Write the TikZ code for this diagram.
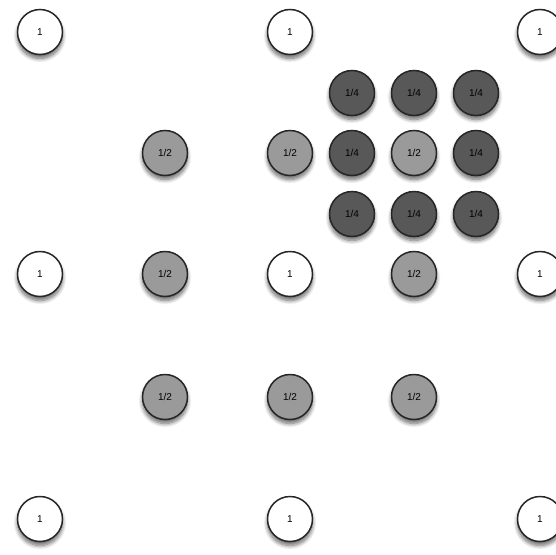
\documentclass[tikz,border=0pt]{standalone}
\usepackage{fontspec}
\setsansfont{Liberation Sans}
\usetikzlibrary{shadows.blur}
\definecolor{halfgray}{HTML}{9A9A9A}
\definecolor{quartergray}{HTML}{585858}
\tikzset{
  coin/.style={circle, draw=black!85, line width=1.5pt, minimum size=45pt,
    inner sep=0pt, font=\sffamily\fontsize{10}{11}\selectfont,
    blur shadow={shadow xshift=0pt, shadow yshift=-4pt, shadow blur radius=4pt,
      shadow blur steps=8, shadow opacity=60}},
  onecoin/.style={coin, fill=white},
  halfcoin/.style={coin, fill=halfgray},
  quartercoin/.style={coin, fill=quartergray, text=black}
}
\begin{document}
\begin{tikzpicture}[x=1pt, y=-1pt]
    \useasboundingbox (0,0) rectangle (556,554);

    % 1. Cac diem trong so 1 (goc luoi thua)
    \node[onecoin] (w11) at (40,32) {1};
    \node[onecoin] (w12) at (290,32) {1};
    \node[onecoin] (w13) at (540,32) {1};
    \node[onecoin] (w21) at (40,274) {1};
    \node[onecoin] (w22) at (290,274) {1};
    \node[onecoin] (w23) at (540,274) {1};
    \node[onecoin] (w31) at (40,519) {1};
    \node[onecoin] (w32) at (290,519) {1};
    \node[onecoin] (w33) at (540,519) {1};

    % 2. Cac diem trong so 1/2 (trung diem)
    \node[halfcoin] (h1) at (165,153) {1/2};
    \node[halfcoin] (h2) at (290,153) {1/2};
    \node[halfcoin] (h3) at (165,274) {1/2};
    \node[halfcoin] (h4) at (165,397) {1/2};
    \node[halfcoin] (h5) at (290,397) {1/2};
    \node[halfcoin] (h6) at (414,397) {1/2};
    \node[halfcoin] (h7) at (414,274) {1/2};
    \node[halfcoin] (h8) at (414,153) {1/2};

    % 3. Cac diem trong so 1/4 (luoi min)
    \node[quartercoin] (q1) at (352,93) {1/4};
    \node[quartercoin] (q2) at (414,93) {1/4};
    \node[quartercoin] (q3) at (476,93) {1/4};
    \node[quartercoin] (q4) at (352,153) {1/4};
    \node[quartercoin] (q5) at (476,153) {1/4};
    \node[quartercoin] (q6) at (352,214) {1/4};
    \node[quartercoin] (q7) at (414,214) {1/4};
    \node[quartercoin] (q8) at (476,214) {1/4};
\end{tikzpicture}
\end{document}
